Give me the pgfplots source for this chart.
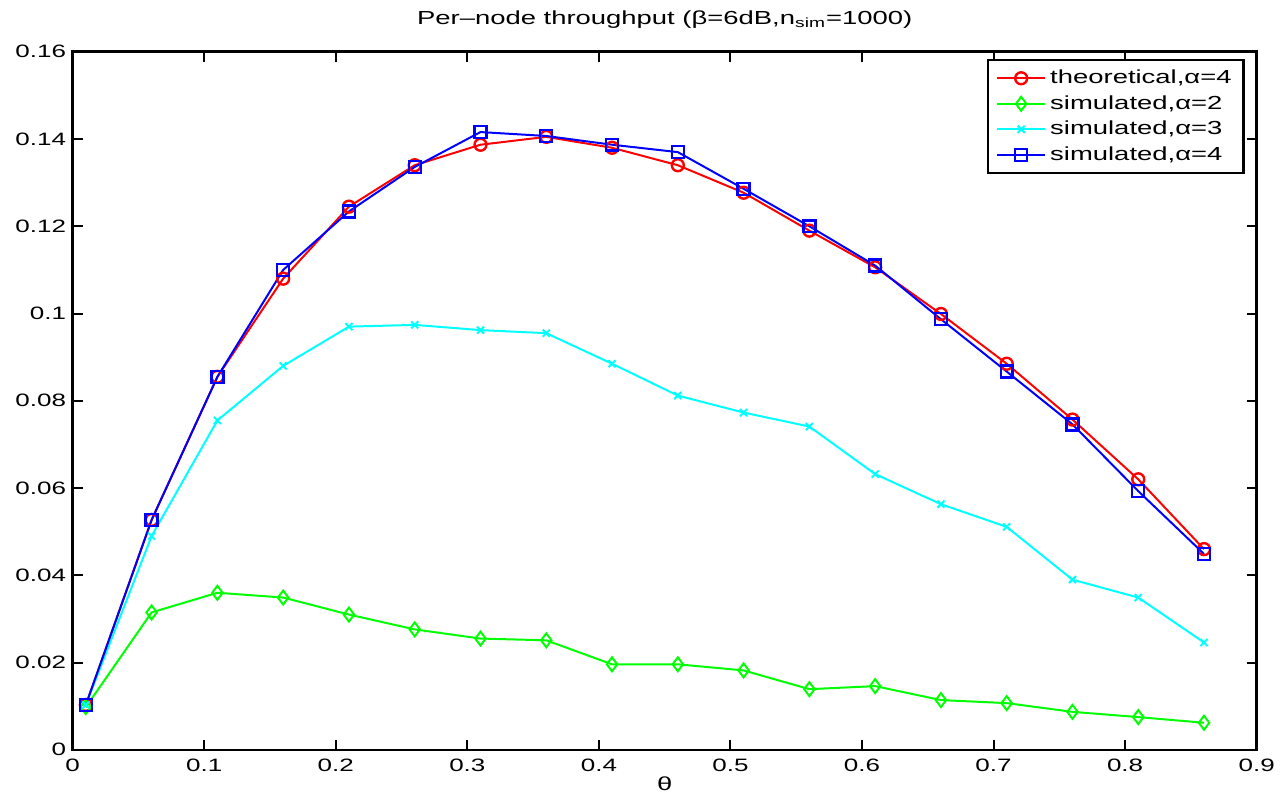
\documentclass[border=0pt]{standalone}
\usepackage{fontspec}
\setmainfont{Liberation Sans}[FakeStretch=1.45]
\usepackage{pgfplots}
\pgfplotsset{compat=1.18}
\definecolor{mcyan}{rgb}{0,1,1}

\begin{document}
\fontsize{9.5pt}{11pt}\selectfont
\begin{tikzpicture}
\begin{axis}[
    scale only axis,
    width=594.5pt, height=350.5pt,
    xmin=0, xmax=0.9, ymin=0, ymax=0.16,
    xtick={0,0.1,...,0.9},
    ytick={0,0.02,...,0.16},
    yticklabels={0,0.02,0.04,0.06,0.08,0.1,0.12,0.14,0.16},
    xticklabels={0,0.1,0.2,0.3,0.4,0.5,0.6,0.7,0.8,0.9},
    tick align=inside,
    major tick length=5pt,
    axis line style={line width=1.3pt},
    every tick/.style={line width=1pt, black},
    tick label style={font=\fontsize{9pt}{10pt}\selectfont},
    xticklabel style={yshift=-1pt},
    clip=false,
    legend style={
        at={(0.99,0.99)}, anchor=north east,
        draw=black, line width=1.3pt,
        font=\fontsize{9.5pt}{11pt}\selectfont,
        row sep=0.5pt,
        inner xsep=4pt, inner ysep=3pt,
        cells={anchor=west},
    },
    legend image code/.code={
        \draw[#1, line width=1pt] (0cm,0cm) -- (0.85cm,0cm);
        \draw[#1, line width=1pt] plot coordinates {(0.425cm,0cm)};
    },
]
\path (axis description cs:-0.0614,-0.0642) rectangle (axis description cs:1.016,1.0742);
\node at (axis description cs:0.5,1.046) {Per--node throughput (β=6dB,n\textsubscript{sim}=1000)};
\node at (axis description cs:0.5,-0.0485) {θ};

\addplot[red, line width=1pt, mark=o, mark size=3pt, mark options={line width=1.2pt}]
    coordinates {
        (0.01,0.0103)(0.06,0.0527)(0.11,0.0855)(0.16,0.1080)(0.21,0.1245)(0.26,0.1340)
        (0.31,0.1387)(0.36,0.1405)(0.41,0.1380)(0.46,0.1340)(0.51,0.1277)(0.56,0.1190)
        (0.61,0.1106)(0.66,0.0999)(0.71,0.0885)(0.76,0.0757)(0.81,0.0620)(0.86,0.0460)
    };
\addplot[green, line width=1pt, mark=diamond, mark size=3.5pt, mark options={line width=1pt}]
    coordinates {
        (0.01,0.0098)(0.06,0.0315)(0.11,0.0360)(0.16,0.0349)(0.21,0.0310)(0.26,0.0276)
        (0.31,0.0255)(0.36,0.0251)(0.41,0.0196)(0.46,0.0196)(0.51,0.0182)(0.56,0.0139)
        (0.61,0.0146)(0.66,0.0114)(0.71,0.0107)(0.76,0.0087)(0.81,0.0075)(0.86,0.0062)
    };
\addplot[mcyan, line width=1pt, mark=x, mark size=2.5pt, mark options={line width=1pt}]
    coordinates {
        (0.01,0.0103)(0.06,0.0490)(0.11,0.0755)(0.16,0.0880)(0.21,0.0970)(0.26,0.0974)
        (0.31,0.0962)(0.36,0.0955)(0.41,0.0885)(0.46,0.0812)(0.51,0.0773)(0.56,0.0741)
        (0.61,0.0632)(0.66,0.0563)(0.71,0.0511)(0.76,0.0390)(0.81,0.0349)(0.86,0.0246)
    };
\addplot[blue, line width=1pt, mark=square, mark size=3pt, mark options={line width=1.2pt}]
    coordinates {
        (0.01,0.0103)(0.06,0.0527)(0.11,0.0855)(0.16,0.1100)(0.21,0.1234)(0.26,0.1336)
        (0.31,0.1416)(0.36,0.1407)(0.41,0.1387)(0.46,0.1370)(0.51,0.1286)(0.56,0.1200)
        (0.61,0.1110)(0.66,0.0987)(0.71,0.0867)(0.76,0.0746)(0.81,0.0593)(0.86,0.0449)
    };
\legend{theoretical{,}α=4, simulated{,}α=2, simulated{,}α=3, simulated{,}α=4}
\end{axis}
\end{tikzpicture}
\end{document}
